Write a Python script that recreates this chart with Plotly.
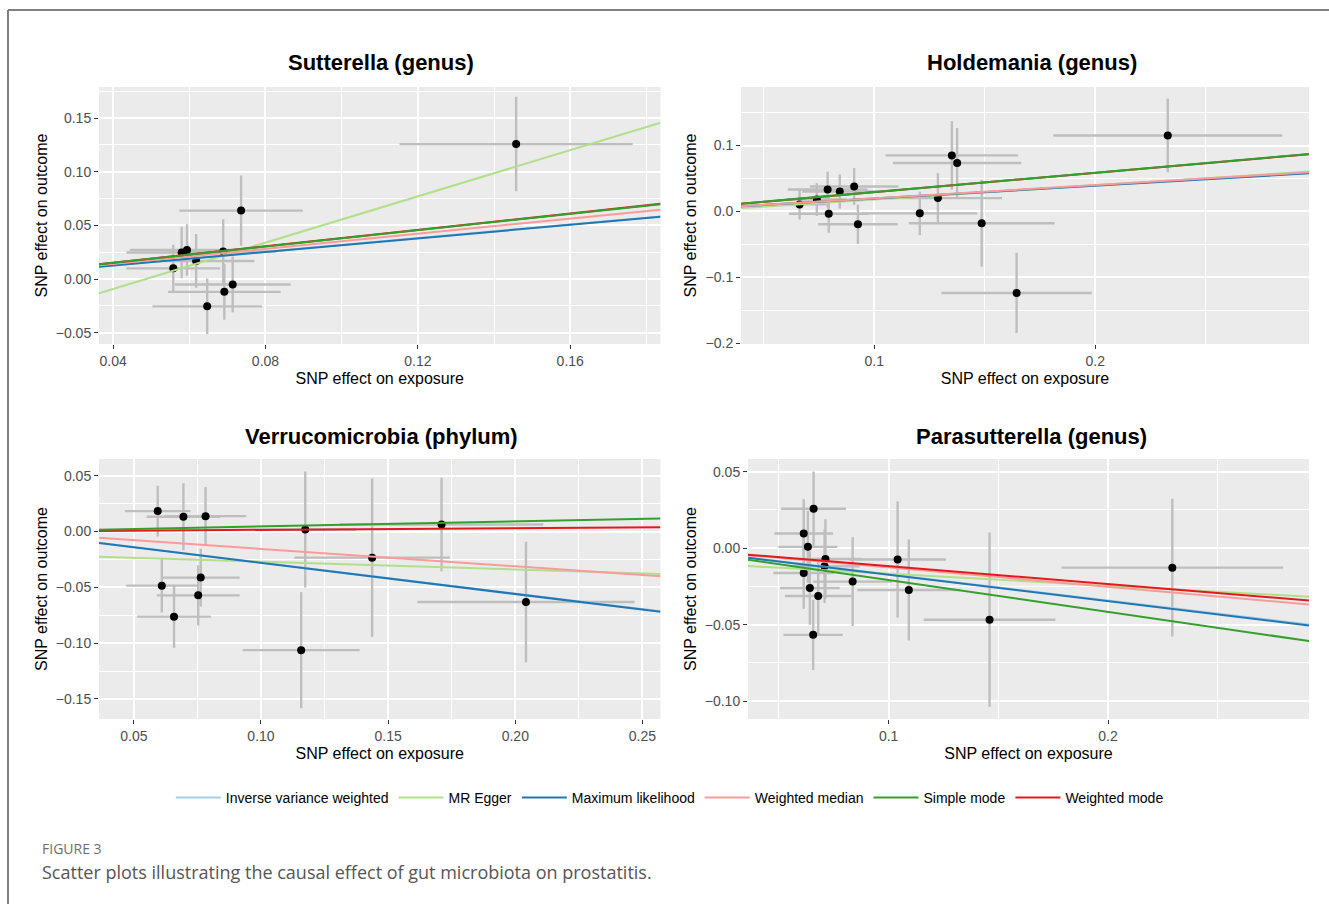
import plotly.graph_objects as go

# ---------------- data ----------------
methods = ["Inverse variance weighted", "MR Egger", "Maximum likelihood",
           "Weighted median", "Simple mode", "Weighted mode"]
method_colors = ["#A6CEE3", "#B2DF8A", "#1F78B4", "#FB9A99", "#33A02C", "#E31A1C"]

panel_titles = ["Sutterella (genus)", "Holdemania (genus)",
                "Verrucomicrobia (phylum)", "Parasutterella (genus)"]

# Sutterella (genus)
sut_bx = [0.1458, 0.0736, 0.0594, 0.0580, 0.0618, 0.0558, 0.0689, 0.0714, 0.0692, 0.0647]
sut_by = [0.1258, 0.0638, 0.0272, 0.0247, 0.0169, 0.0100, 0.0257, -0.0050, -0.0119, -0.0254]
sut_sex = [0.0306, 0.0162, 0.0150, 0.0145, 0.0153, 0.0123, 0.0140, 0.0152, 0.0148, 0.0144]
sut_sey = [0.0440, 0.0327, 0.0240, 0.0240, 0.0250, 0.0220, 0.0300, 0.0260, 0.0260, 0.0260]
sut_slopes = [0.318, 1.078, 0.316, 0.352, 0.380, 0.382]
sut_intercepts = [0.0, -0.0523, 0.0, 0.0, 0.0, 0.0]

# Holdemania (genus)
hol_bx = [0.2328, 0.1351, 0.1375, 0.0909, 0.0789, 0.0844, 0.0740, 0.0662, 0.1288, 0.1206,
          0.0794, 0.0926, 0.1486, 0.1644]
hol_by = [0.1154, 0.0851, 0.0736, 0.0378, 0.0332, 0.0302, 0.0180, 0.0106, 0.0202, -0.0030,
          -0.0035, -0.0196, -0.0181, -0.1239]
hol_sex = [0.0518, 0.0300, 0.0290, 0.0200, 0.0180, 0.0170, 0.0135, 0.0120, 0.0290, 0.0260,
           0.0180, 0.0180, 0.0330, 0.0340]
hol_sey = [0.0560, 0.0520, 0.0530, 0.0280, 0.0270, 0.0260, 0.0250, 0.0230, 0.0380, 0.0330,
           0.0290, 0.0300, 0.0660, 0.0610]
hol_slopes = [0.197, 0.216, 0.195, 0.200, 0.294, 0.293]
hol_intercepts = [0.0, -0.0036, 0.0, 0.0, 0.0, 0.0]

# Verrucomicrobia (phylum)
ver_bx = [0.0594, 0.0695, 0.0782, 0.1174, 0.1437, 0.1710, 0.0610, 0.0763, 0.0753, 0.0658,
          0.1158, 0.2042]
ver_by = [0.0183, 0.0132, 0.0138, 0.0018, -0.0234, 0.0063, -0.0485, -0.0413, -0.0572, -0.0763,
          -0.1063, -0.0632]
ver_sex = [0.0129, 0.0145, 0.0160, 0.0200, 0.0306, 0.0400, 0.0140, 0.0153, 0.0163, 0.0145,
           0.0230, 0.0427]
ver_sey = [0.0228, 0.0300, 0.0260, 0.0520, 0.0710, 0.0420, 0.0240, 0.0260, 0.0270, 0.0280,
           0.0520, 0.0540]
ver_slopes = [-0.278, -0.070, -0.280, -0.156, 0.0455, 0.0152]
ver_intercepts = [0.0, -0.0200, 0.0, 0.0, 0.0, 0.0]

# Parasutterella (genus)
par_bx = [0.2293, 0.1460, 0.1041, 0.1092, 0.0836, 0.0658, 0.0613, 0.0632, 0.0712, 0.0708,
          0.0613, 0.0641, 0.0679, 0.0656]
par_by = [-0.0127, -0.0467, -0.0074, -0.0273, -0.0218, 0.0258, 0.0096, 0.0009, -0.0070, -0.0118,
          -0.0162, -0.0260, -0.0312, -0.0566]
par_sex = [0.0505, 0.0300, 0.0220, 0.0235, 0.0180, 0.0148, 0.0134, 0.0134, 0.0164, 0.0160,
           0.0138, 0.0136, 0.0152, 0.0135]
par_sey = [0.0450, 0.0570, 0.0380, 0.0330, 0.0290, 0.0243, 0.0224, 0.0235, 0.0260, 0.0240,
           0.0234, 0.0240, 0.0250, 0.0230]
par_slopes = [-0.171, -0.0786, -0.173, -0.126, -0.208, -0.117]
par_intercepts = [0.0, -0.0088, 0.0, 0.0, 0.0, 0.0]

# axis ranges / ticks
x_ranges = [[0.0363, 0.1837], [0.0397, 0.2967], [0.0363, 0.2571], [0.0359, 0.2916]]
y_ranges = [[-0.0605, 0.179], [-0.2015, 0.189], [-0.168, 0.065], [-0.1116, 0.0583]]
x_dticks = [0.04, 0.1, 0.05, 0.1]
y_dticks = [0.05, 0.1, 0.05, 0.05]
x_formats = [".2f", ".1f", ".2f", ".1f"]
y_formats = [".2f", ".1f", ".2f", ".2f"]

panels = [
    (sut_bx, sut_by, sut_sex, sut_sey, sut_slopes, sut_intercepts),
    (hol_bx, hol_by, hol_sex, hol_sey, hol_slopes, hol_intercepts),
    (ver_bx, ver_by, ver_sex, ver_sey, ver_slopes, ver_intercepts),
    (par_bx, par_by, par_sex, par_sey, par_slopes, par_intercepts),
]

# ---------------- layout geometry (pixels) ----------------
W, H = 1329, 904
# (left, right, top, bottom) of each plotting panel
panel_px = [(99, 660.5, 87, 344), (741, 1309, 87, 344),
            (99, 660.5, 459, 719), (748, 1309, 459, 719)]
title_px = [(381, 63), (1032, 63), (381, 436), (1031, 436)]

FONT = "Liberation Sans, Arial, sans-serif"
fig = go.Figure()

draw_order = [0, 1, 2, 3, 5, 4]  # simple mode drawn above weighted mode

for i, (bx, by, sex, sey, slopes, ints) in enumerate(panels):
    xa = "x" if i == 0 else f"x{i+1}"
    ya = "y" if i == 0 else f"y{i+1}"
    fig.add_trace(go.Scatter(
        x=bx, y=by, mode="markers", xaxis=xa, yaxis=ya, showlegend=False,
        marker=dict(color="black", size=8),
        error_x=dict(type="data", array=sex, color="#BEBEBE", thickness=2.4, width=0),
        error_y=dict(type="data", array=sey, color="#BEBEBE", thickness=2.4, width=0),
        hoverinfo="skip",
    ))
    xr = x_ranges[i]
    for m in draw_order:
        fig.add_trace(go.Scatter(
            x=[xr[0], xr[1]],
            y=[ints[m] + slopes[m] * xr[0], ints[m] + slopes[m] * xr[1]],
            mode="lines", xaxis=xa, yaxis=ya,
            line=dict(color=method_colors[m], width=2),
            name=methods[m], legendgroup=methods[m], legendrank=m + 1,
            showlegend=(i == 0),
        ))

layout = dict(
    width=W, height=H,
    margin=dict(l=0, r=0, t=0, b=0),
    paper_bgcolor="white", plot_bgcolor="#EBEBEB",
    font=dict(family=FONT, color="black"),
    legend=dict(orientation="h", x=0.504, xanchor="center", y=1 - 798 / H, yanchor="middle",
                font=dict(family=FONT, size=14, color="black"),
                itemwidth=45, traceorder="normal", bgcolor="rgba(0,0,0,0)"),
    annotations=[], shapes=[],
)

for i in range(4):
    l, r, t, b = panel_px[i]
    xkey = "xaxis" if i == 0 else f"xaxis{i+1}"
    ykey = "yaxis" if i == 0 else f"yaxis{i+1}"
    xa_anchor = "y" if i == 0 else f"y{i+1}"
    ya_anchor = "x" if i == 0 else f"x{i+1}"
    common = dict(
        showgrid=True, gridcolor="white", gridwidth=1.8, zeroline=False,
        ticks="outside", ticklen=4, tickwidth=1.2, tickcolor="#333333",
        tickfont=dict(family=FONT, size=14, color="#4D4D4D"),
        showline=False, automargin=False,
    )
    layout[xkey] = dict(
        common, domain=[l / W, r / W], anchor=xa_anchor, range=x_ranges[i],
        dtick=x_dticks[i], tick0=0, tickformat=x_formats[i],
        minor=dict(dtick=x_dticks[i] / 2, tick0=0, showgrid=True, gridcolor="white",
                   gridwidth=0.8, ticks=""),
        title=dict(text="SNP effect on exposure", font=dict(family=FONT, size=16, color="black"),
                   standoff=5),
    )
    layout[ykey] = dict(
        common, domain=[1 - b / H, 1 - t / H], anchor=ya_anchor, range=y_ranges[i],
        dtick=y_dticks[i], tick0=0, tickformat=y_formats[i],
        minor=dict(dtick=y_dticks[i] / 2, tick0=0, showgrid=True, gridcolor="white",
                   gridwidth=0.8, ticks=""),
        title=dict(text="SNP effect on outcome", font=dict(family=FONT, size=16, color="black"),
                   standoff=4),
    )
    tx, ty = title_px[i]
    layout["annotations"].append(dict(
        text=f"<b>{panel_titles[i]}</b>", x=tx / W, y=1 - ty / H, xref="paper", yref="paper",
        xanchor="center", yanchor="middle", showarrow=False,
        font=dict(family=FONT, size=22, color="black"),
    ))

# caption
layout["annotations"].append(dict(
    text="FIGURE 3", x=40 / W, y=1 - 848 / H, xref="paper", yref="paper",
    xanchor="left", yanchor="middle", showarrow=False,
    font=dict(family="Open Sans, Lato, sans-serif", size=14, color="#6E6E6E"),
))
layout["annotations"].append(dict(
    text="Scatter plots illustrating the causal effect of gut microbiota on prostatitis.",
    x=40 / W, y=1 - 872 / H, xref="paper", yref="paper",
    xanchor="left", yanchor="middle", showarrow=False,
    font=dict(family="Open Sans, Lato, sans-serif", size=18, color="#555555"),
))

# frame lines (top and left edges of the figure card)
layout["shapes"].append(dict(type="line", xref="paper", yref="paper",
                             x0=8 / W, x1=1.0, y0=1 - 10 / H, y1=1 - 10 / H,
                             line=dict(color="#808080", width=2)))
layout["shapes"].append(dict(type="line", xref="paper", yref="paper",
                             x0=8 / W, x1=8 / W, y0=0, y1=1 - 10 / H,
                             line=dict(color="#808080", width=2)))

fig.update_layout(layout)
fig.write_html("out.html", config={"displayModeBar": False},
               post_script="document.body.style.margin='0';")
